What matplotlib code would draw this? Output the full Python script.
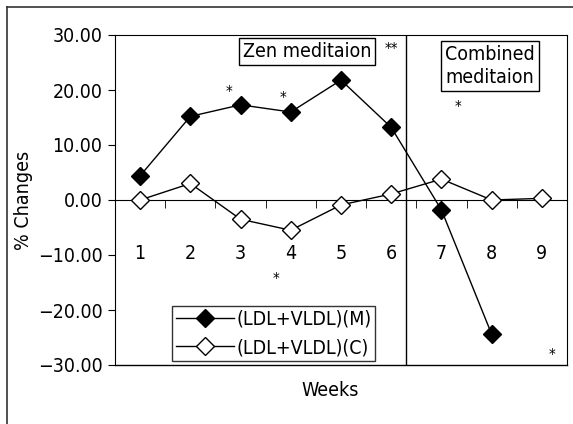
import matplotlib.pyplot as plt
from matplotlib.lines import Line2D

plt.rcParams['font.family'] = ['Liberation Sans Narrow', 'DejaVu Sans']
plt.rcParams['font.stretch'] = 'condensed'

# weekly % changes
weeks = ['1', '2', '3', '4', '5', '6', '7', '8', '9']
pos_m = [1, 2, 3, 4, 5, 6, 7, 8]
ldl_m = [4.4, 15.2, 17.3, 16.0, 21.8, 13.2, -1.8, -24.4]
pos_c = [1, 2, 3, 4, 5, 6, 7, 8, 9]
ldl_c = [0.0, 3.0, -3.5, -5.5, -0.9, 1.1, 3.8, 0.0, 0.3]

# significance marks (x, y, text)
star_x = [2.77, 3.85, 6.0, 7.33, 3.7, 9.2]
star_y = [19.5, 18.5, 27.3, 16.9, -14.4, -28.2]
star_txt = ['*', '*', '**', '*', '*', '*']

fig = plt.figure(figsize=(5.73, 4.24), dpi=100)
ax = fig.add_axes([115 / 573, 1 - 365 / 424, 452 / 573, 330 / 424])

ax.plot(pos_m, ldl_m, color='black', lw=1, marker='D', ms=9,
        mfc='black', mec='black', label='(LDL+VLDL)(M)', zorder=3)
ax.plot(pos_c, ldl_c, color='black', lw=1, marker='D', ms=9,
        mfc='white', mec='black', mew=1, label='(LDL+VLDL)(C)', zorder=3)

ax.set_xlim(0.5, 9.5)
ax.set_ylim(-30, 30)
ax.set_yticks([30, 20, 10, 0, -10, -20, -30])
ax.set_yticklabels(['30.00', '20.00', '10.00', '0.00',
                    '\u221210.00', '\u221220.00', '\u221230.00'], fontsize=14)

# category labels under the zero line, ticks at boundaries
ax.spines['bottom'].set_position(('data', 0))
ax.set_xticks(pos_c)
ax.set_xticklabels(weeks, fontsize=14)
ax.tick_params(axis='x', which='major', length=0, pad=32)
ax.set_xticks([1.5 + i for i in range(9)], minor=True)
ax.tick_params(axis='x', which='minor', length=6, direction='out')
ax.tick_params(axis='y', length=5, direction='out', pad=4)

# closing line along the bottom of the plot area
ax.plot([0.5, 9.5], [-30, -30], color='black', lw=1, clip_on=False, zorder=4)

ax.axvline(6.3, color='black', lw=1)

for x, y, t in zip(star_x, star_y, star_txt):
    ax.text(x, y, t, ha='center', va='center', fontsize=11)

box = dict(boxstyle='square,pad=0.2', fc='white', ec='black', lw=1)
ax.text(4.33, 27.0, 'Zen meditaion', ha='center', va='center', fontsize=14, bbox=box)
ax.text(7.97, 24.4, 'Combined\nmeditaion', ha='center', va='center', fontsize=14,
        linespacing=1.25, bbox=box)

ax.set_ylabel('% Changes', fontsize=14)
ax.yaxis.set_label_coords((33 - 115) / 452, 0.5)
fig.text(330 / 573, 1 - 390 / 424, 'Weeks', ha='center', va='center', fontsize=14)

leg = ax.legend(loc='lower left', bbox_to_anchor=(57 / 452, 4 / 330), fontsize=14,
                frameon=True, fancybox=False, edgecolor='black', borderpad=0.2,
                handlelength=3.0, handletextpad=0.1, labelspacing=0.5,
                borderaxespad=0)
leg.get_frame().set_linewidth(1)

# page frame lines
fig.add_artist(Line2D([7 / 573, 7 / 573], [0, 1 - 7 / 424], color='#333333', lw=1.2))
fig.add_artist(Line2D([7 / 573, 1], [1 - 7 / 424, 1 - 7 / 424], color='#333333', lw=1.2))

fig.savefig('out.png', dpi=100)
